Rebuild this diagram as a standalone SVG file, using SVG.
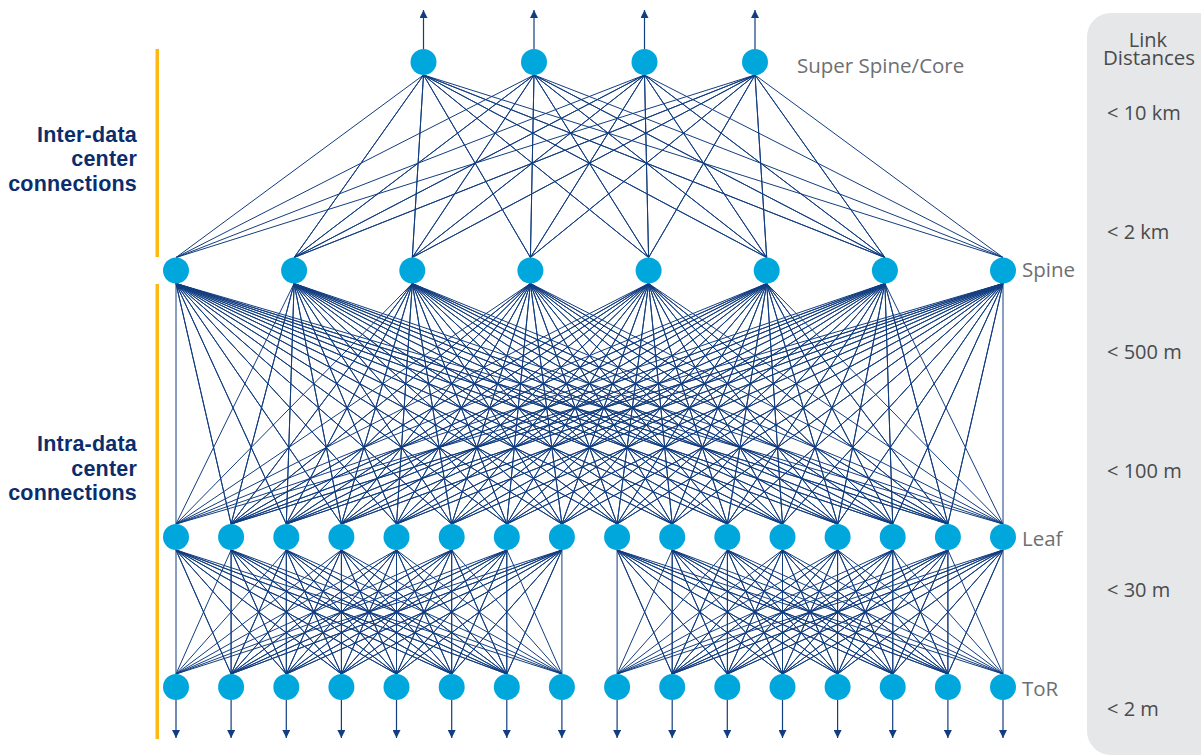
<svg xmlns="http://www.w3.org/2000/svg" width="1201" height="756" viewBox="0 0 1201 756">
  <style>
    .node { fill: #00a7dd; }
    .link { fill: none; stroke: #123d80; stroke-width: 1; stroke-linejoin: round; }
    .arrow { stroke: #123d80; stroke-width: 1.2; marker-end: url(#head); }
    .tier { font-family: "Open Sans", "Liberation Sans", sans-serif; font-size: 20.5px; fill: #6d6f73; }
    .dist { font-family: "Open Sans", "Liberation Sans", sans-serif; font-size: 20px; fill: #4a4b4d; }
    .scope { font-family: "Liberation Sans", Arial, sans-serif; font-size: 21.5px; font-weight: bold; letter-spacing: 0.2px; fill: #0c2d6b; text-anchor: end; }
    .bar { fill: #fdb913; }
  </style>
  <defs>
    <marker id="head" viewBox="0 0 8 8" refX="8" refY="4" markerWidth="8" markerHeight="8" markerUnits="userSpaceOnUse" orient="auto">
      <path d="M0,0 L8,4 L0,8 z" fill="#123d80"/>
    </marker>
    <!-- full mesh between one pod of 8 leaves and its 8 ToR switches -->
    <g id="pod-mesh">
      <polyline points="176,674 176,550 231.1,674 176,550 286.3,674 176,550 341.4,674 176,550 396.5,674 176,550 451.7,674 176,550 506.8,674 176,550 561.9,674"/>
      <polyline points="176,674 231.1,550 231.1,674 231.1,550 286.3,674 231.1,550 341.4,674 231.1,550 396.5,674 231.1,550 451.7,674 231.1,550 506.8,674 231.1,550 561.9,674"/>
      <polyline points="176,674 286.3,550 231.1,674 286.3,550 286.3,674 286.3,550 341.4,674 286.3,550 396.5,674 286.3,550 451.7,674 286.3,550 506.8,674 286.3,550 561.9,674"/>
      <polyline points="176,674 341.4,550 231.1,674 341.4,550 286.3,674 341.4,550 341.4,674 341.4,550 396.5,674 341.4,550 451.7,674 341.4,550 506.8,674 341.4,550 561.9,674"/>
      <polyline points="176,674 396.5,550 231.1,674 396.5,550 286.3,674 396.5,550 341.4,674 396.5,550 396.5,674 396.5,550 451.7,674 396.5,550 506.8,674 396.5,550 561.9,674"/>
      <polyline points="176,674 451.7,550 231.1,674 451.7,550 286.3,674 451.7,550 341.4,674 451.7,550 396.5,674 451.7,550 451.7,674 451.7,550 506.8,674 451.7,550 561.9,674"/>
      <polyline points="176,674 506.8,550 231.1,674 506.8,550 286.3,674 506.8,550 341.4,674 506.8,550 396.5,674 506.8,550 451.7,674 506.8,550 506.8,674 506.8,550 561.9,674"/>
      <polyline points="176,674 561.9,550 231.1,674 561.9,550 286.3,674 561.9,550 341.4,674 561.9,550 396.5,674 561.9,550 451.7,674 561.9,550 506.8,674 561.9,550 561.9,674"/>
    </g>
  </defs>

  <!-- link distance panel -->
  <g id="distance-panel">
    <rect x="1087" y="13" width="150" height="742" rx="24" fill="#e6e7e8"/>
    <text class="dist" text-anchor="middle"><tspan x="1148" y="47">Link</tspan><tspan x="1149" y="65" font-size="20.5">Distances</tspan></text>
    <text class="dist" x="1107" y="120">&lt; 10 km</text>
    <text class="dist" x="1107" y="239">&lt; 2 km</text>
    <text class="dist" x="1107" y="358.5">&lt; 500 m</text>
    <text class="dist" x="1107" y="477.5">&lt; 100 m</text>
    <text class="dist" x="1107" y="597">&lt; 30 m</text>
    <text class="dist" x="1107" y="716">&lt; 2 m</text>
  </g>

  <!-- scope brackets and captions -->
  <g id="scope-inter">
    <rect class="bar" x="155.5" y="49" width="3.5" height="208"/>
    <text class="scope" x="137" y="141.5">Inter-data</text>
    <text class="scope" x="137" y="166">center</text>
    <text class="scope" x="137" y="190.5">connections</text>
  </g>
  <g id="scope-intra">
    <rect class="bar" x="155.5" y="284" width="3.5" height="455"/>
    <text class="scope" x="137" y="451">Intra-data</text>
    <text class="scope" x="137" y="475.5">center</text>
    <text class="scope" x="137" y="500">connections</text>
  </g>

  <!-- connectors -->
  <g id="connectors">
    <g id="core-spine" class="link">
      <polyline points="176,257.5 423.5,75 294.1,257.5 423.5,75 412.3,257.5 423.5,75 530.4,257.5 423.5,75 648.6,257.5 423.5,75 766.7,257.5 423.5,75 884.9,257.5 423.5,75 1003,257.5"/>
      <polyline points="176,257.5 534,75 294.1,257.5 534,75 412.3,257.5 534,75 530.4,257.5 534,75 648.6,257.5 534,75 766.7,257.5 534,75 884.9,257.5 534,75 1003,257.5"/>
      <polyline points="176,257.5 644.5,75 294.1,257.5 644.5,75 412.3,257.5 644.5,75 530.4,257.5 644.5,75 648.6,257.5 644.5,75 766.7,257.5 644.5,75 884.9,257.5 644.5,75 1003,257.5"/>
      <polyline points="176,257.5 755,75 294.1,257.5 755,75 412.3,257.5 755,75 530.4,257.5 755,75 648.6,257.5 755,75 766.7,257.5 755,75 884.9,257.5 755,75 1003,257.5"/>
    </g>
    <g id="spine-leaf" class="link">
      <polyline points="176,524 176,283.5 231.1,524 176,283.5 286.3,524 176,283.5 341.4,524 176,283.5 396.5,524 176,283.5 451.7,524 176,283.5 506.8,524 176,283.5 561.9,524 176,283.5 617.1,524 176,283.5 672.2,524 176,283.5 727.3,524 176,283.5 782.5,524 176,283.5 837.6,524 176,283.5 892.7,524 176,283.5 947.9,524 176,283.5 1003,524"/>
      <polyline points="176,524 294.1,283.5 231.1,524 294.1,283.5 286.3,524 294.1,283.5 341.4,524 294.1,283.5 396.5,524 294.1,283.5 451.7,524 294.1,283.5 506.8,524 294.1,283.5 561.9,524 294.1,283.5 617.1,524 294.1,283.5 672.2,524 294.1,283.5 727.3,524 294.1,283.5 782.5,524 294.1,283.5 837.6,524 294.1,283.5 892.7,524 294.1,283.5 947.9,524 294.1,283.5 1003,524"/>
      <polyline points="176,524 412.3,283.5 231.1,524 412.3,283.5 286.3,524 412.3,283.5 341.4,524 412.3,283.5 396.5,524 412.3,283.5 451.7,524 412.3,283.5 506.8,524 412.3,283.5 561.9,524 412.3,283.5 617.1,524 412.3,283.5 672.2,524 412.3,283.5 727.3,524 412.3,283.5 782.5,524 412.3,283.5 837.6,524 412.3,283.5 892.7,524 412.3,283.5 947.9,524 412.3,283.5 1003,524"/>
      <polyline points="176,524 530.4,283.5 231.1,524 530.4,283.5 286.3,524 530.4,283.5 341.4,524 530.4,283.5 396.5,524 530.4,283.5 451.7,524 530.4,283.5 506.8,524 530.4,283.5 561.9,524 530.4,283.5 617.1,524 530.4,283.5 672.2,524 530.4,283.5 727.3,524 530.4,283.5 782.5,524 530.4,283.5 837.6,524 530.4,283.5 892.7,524 530.4,283.5 947.9,524 530.4,283.5 1003,524"/>
      <polyline points="176,524 648.6,283.5 231.1,524 648.6,283.5 286.3,524 648.6,283.5 341.4,524 648.6,283.5 396.5,524 648.6,283.5 451.7,524 648.6,283.5 506.8,524 648.6,283.5 561.9,524 648.6,283.5 617.1,524 648.6,283.5 672.2,524 648.6,283.5 727.3,524 648.6,283.5 782.5,524 648.6,283.5 837.6,524 648.6,283.5 892.7,524 648.6,283.5 947.9,524 648.6,283.5 1003,524"/>
      <polyline points="176,524 766.7,283.5 231.1,524 766.7,283.5 286.3,524 766.7,283.5 341.4,524 766.7,283.5 396.5,524 766.7,283.5 451.7,524 766.7,283.5 506.8,524 766.7,283.5 561.9,524 766.7,283.5 617.1,524 766.7,283.5 672.2,524 766.7,283.5 727.3,524 766.7,283.5 782.5,524 766.7,283.5 837.6,524 766.7,283.5 892.7,524 766.7,283.5 947.9,524 766.7,283.5 1003,524"/>
      <polyline points="176,524 884.9,283.5 231.1,524 884.9,283.5 286.3,524 884.9,283.5 341.4,524 884.9,283.5 396.5,524 884.9,283.5 451.7,524 884.9,283.5 506.8,524 884.9,283.5 561.9,524 884.9,283.5 617.1,524 884.9,283.5 672.2,524 884.9,283.5 727.3,524 884.9,283.5 782.5,524 884.9,283.5 837.6,524 884.9,283.5 892.7,524 884.9,283.5 947.9,524 884.9,283.5 1003,524"/>
      <polyline points="176,524 1003,283.5 231.1,524 1003,283.5 286.3,524 1003,283.5 341.4,524 1003,283.5 396.5,524 1003,283.5 451.7,524 1003,283.5 506.8,524 1003,283.5 561.9,524 1003,283.5 617.1,524 1003,283.5 672.2,524 1003,283.5 727.3,524 1003,283.5 782.5,524 1003,283.5 837.6,524 1003,283.5 892.7,524 1003,283.5 947.9,524 1003,283.5 1003,524"/>
    </g>
    <g id="leaf-tor" class="link">
      <use href="#pod-mesh"/>
      <use href="#pod-mesh" transform="translate(441.1,0)"/>
    </g>
    <g id="uplinks">
      <line class="arrow" x1="423.5" y1="49" x2="423.5" y2="10"/>
      <line class="arrow" x1="534" y1="49" x2="534" y2="10"/>
      <line class="arrow" x1="644.5" y1="49" x2="644.5" y2="10"/>
      <line class="arrow" x1="755" y1="49" x2="755" y2="10"/>
    </g>
    <g id="downlinks">
      <line class="arrow" x1="176" y1="700" x2="176" y2="738"/>
      <line class="arrow" x1="231.1" y1="700" x2="231.1" y2="738"/>
      <line class="arrow" x1="286.3" y1="700" x2="286.3" y2="738"/>
      <line class="arrow" x1="341.4" y1="700" x2="341.4" y2="738"/>
      <line class="arrow" x1="396.5" y1="700" x2="396.5" y2="738"/>
      <line class="arrow" x1="451.7" y1="700" x2="451.7" y2="738"/>
      <line class="arrow" x1="506.8" y1="700" x2="506.8" y2="738"/>
      <line class="arrow" x1="561.9" y1="700" x2="561.9" y2="738"/>
      <line class="arrow" x1="617.1" y1="700" x2="617.1" y2="738"/>
      <line class="arrow" x1="672.2" y1="700" x2="672.2" y2="738"/>
      <line class="arrow" x1="727.3" y1="700" x2="727.3" y2="738"/>
      <line class="arrow" x1="782.5" y1="700" x2="782.5" y2="738"/>
      <line class="arrow" x1="837.6" y1="700" x2="837.6" y2="738"/>
      <line class="arrow" x1="892.7" y1="700" x2="892.7" y2="738"/>
      <line class="arrow" x1="947.9" y1="700" x2="947.9" y2="738"/>
      <line class="arrow" x1="1003" y1="700" x2="1003" y2="738"/>
    </g>
  </g>

  <!-- super spine / core tier -->
  <g id="core-1"><circle class="node" cx="423.5" cy="62" r="13"/></g>
  <g id="core-2"><circle class="node" cx="534" cy="62" r="13"/></g>
  <g id="core-3"><circle class="node" cx="644.5" cy="62" r="13"/></g>
  <g id="core-4"><circle class="node" cx="755" cy="62" r="13"/></g>
  <text class="tier" x="797" y="73">Super Spine/Core</text>

  <!-- spine tier -->
  <g id="spine-1"><circle class="node" cx="176" cy="270.5" r="13"/></g>
  <g id="spine-2"><circle class="node" cx="294.1" cy="270.5" r="13"/></g>
  <g id="spine-3"><circle class="node" cx="412.3" cy="270.5" r="13"/></g>
  <g id="spine-4"><circle class="node" cx="530.4" cy="270.5" r="13"/></g>
  <g id="spine-5"><circle class="node" cx="648.6" cy="270.5" r="13"/></g>
  <g id="spine-6"><circle class="node" cx="766.7" cy="270.5" r="13"/></g>
  <g id="spine-7"><circle class="node" cx="884.9" cy="270.5" r="13"/></g>
  <g id="spine-8"><circle class="node" cx="1003" cy="270.5" r="13"/></g>
  <text class="tier" x="1022" y="277">Spine</text>

  <!-- leaf tier -->
  <g id="leaf-1"><circle class="node" cx="176" cy="537" r="13"/></g>
  <g id="leaf-2"><circle class="node" cx="231.1" cy="537" r="13"/></g>
  <g id="leaf-3"><circle class="node" cx="286.3" cy="537" r="13"/></g>
  <g id="leaf-4"><circle class="node" cx="341.4" cy="537" r="13"/></g>
  <g id="leaf-5"><circle class="node" cx="396.5" cy="537" r="13"/></g>
  <g id="leaf-6"><circle class="node" cx="451.7" cy="537" r="13"/></g>
  <g id="leaf-7"><circle class="node" cx="506.8" cy="537" r="13"/></g>
  <g id="leaf-8"><circle class="node" cx="561.9" cy="537" r="13"/></g>
  <g id="leaf-9"><circle class="node" cx="617.1" cy="537" r="13"/></g>
  <g id="leaf-10"><circle class="node" cx="672.2" cy="537" r="13"/></g>
  <g id="leaf-11"><circle class="node" cx="727.3" cy="537" r="13"/></g>
  <g id="leaf-12"><circle class="node" cx="782.5" cy="537" r="13"/></g>
  <g id="leaf-13"><circle class="node" cx="837.6" cy="537" r="13"/></g>
  <g id="leaf-14"><circle class="node" cx="892.7" cy="537" r="13"/></g>
  <g id="leaf-15"><circle class="node" cx="947.9" cy="537" r="13"/></g>
  <g id="leaf-16"><circle class="node" cx="1003" cy="537" r="13"/></g>
  <text class="tier" x="1022" y="545.5">Leaf</text>

  <!-- top-of-rack tier -->
  <g id="tor-1"><circle class="node" cx="176" cy="687" r="13"/></g>
  <g id="tor-2"><circle class="node" cx="231.1" cy="687" r="13"/></g>
  <g id="tor-3"><circle class="node" cx="286.3" cy="687" r="13"/></g>
  <g id="tor-4"><circle class="node" cx="341.4" cy="687" r="13"/></g>
  <g id="tor-5"><circle class="node" cx="396.5" cy="687" r="13"/></g>
  <g id="tor-6"><circle class="node" cx="451.7" cy="687" r="13"/></g>
  <g id="tor-7"><circle class="node" cx="506.8" cy="687" r="13"/></g>
  <g id="tor-8"><circle class="node" cx="561.9" cy="687" r="13"/></g>
  <g id="tor-9"><circle class="node" cx="617.1" cy="687" r="13"/></g>
  <g id="tor-10"><circle class="node" cx="672.2" cy="687" r="13"/></g>
  <g id="tor-11"><circle class="node" cx="727.3" cy="687" r="13"/></g>
  <g id="tor-12"><circle class="node" cx="782.5" cy="687" r="13"/></g>
  <g id="tor-13"><circle class="node" cx="837.6" cy="687" r="13"/></g>
  <g id="tor-14"><circle class="node" cx="892.7" cy="687" r="13"/></g>
  <g id="tor-15"><circle class="node" cx="947.9" cy="687" r="13"/></g>
  <g id="tor-16"><circle class="node" cx="1003" cy="687" r="13"/></g>
  <text class="tier" x="1022" y="695.5">ToR</text>
</svg>
